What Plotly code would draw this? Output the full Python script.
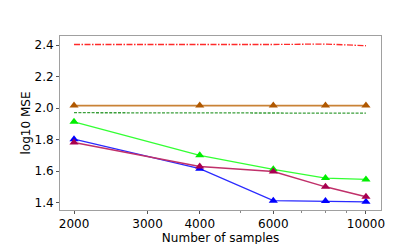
import plotly.graph_objects as go

samples = [2000, 4000, 6000, 8000, 10000]
red_vals = [2.404, 2.403, 2.404, 2.407, 2.396]
brown_vals = [2.016, 2.016, 2.016, 2.016, 2.016]
green_vals = [1.971, 1.971, 1.971, 1.970, 1.968]
lime_vals = [1.913, 1.700, 1.611, 1.556, 1.547]
blue_vals = [1.803, 1.615, 1.412, 1.410, 1.405]
purple_vals = [1.782, 1.629, 1.598, 1.500, 1.437]

x_tickvals = [2000, 3000, 4000, 6000, 10000]
x_ticktext = ["2000", "3000", "4000", "6000", "10000"]
x_minor = [5000, 7000, 8000, 9000]
y_tickvals = [1.4, 1.6, 1.8, 2.0, 2.2, 2.4]
y_ticktext = ["1.4", "1.6", "1.8", "2.0", "2.2", "2.4"]

fig = go.Figure()
fig.add_trace(go.Scatter(x=samples, y=red_vals, mode="lines",
                         line=dict(color="#ff2a2a", width=1.3, dash="6px,1.5px,1.5px,1.5px")))
fig.add_trace(go.Scatter(x=samples, y=green_vals, mode="lines",
                         line=dict(color="#3a9e3a", width=1.3, dash="3px,1.4px")))
fig.add_trace(go.Scatter(x=samples, y=brown_vals, mode="lines+markers",
                         line=dict(color="#c98236", width=1.6),
                         marker=dict(symbol="triangle-up", size=8, color="#b05800")))
fig.add_trace(go.Scatter(x=samples, y=lime_vals, mode="lines+markers",
                         line=dict(color="#33ff33", width=1.3),
                         marker=dict(symbol="triangle-up", size=8, color="#00ee00")))
fig.add_trace(go.Scatter(x=samples, y=blue_vals, mode="lines+markers",
                         line=dict(color="#2a2aff", width=1.3),
                         marker=dict(symbol="triangle-up", size=8, color="#0000ff")))
fig.add_trace(go.Scatter(x=samples, y=purple_vals, mode="lines+markers",
                         line=dict(color="#c0306a", width=1.5),
                         marker=dict(symbol="triangle-up", size=8, color="#a8004f")))

fig.update_layout(
    width=415, height=244,
    margin=dict(l=52, r=42, t=28, b=27),
    paper_bgcolor="white", plot_bgcolor="white",
    showlegend=False,
    font=dict(family="DejaVu Sans", size=12, color="black"),
)
fig.update_xaxes(
    type="log", range=[3.2675, 4.036],
    tickvals=x_tickvals, ticktext=x_ticktext,
    ticks="outside", ticklen=3, tickcolor="#555",
    minor=dict(tickvals=x_minor, ticks="outside", ticklen=2, tickcolor="#888"),
    showgrid=False, zeroline=False,
    showline=True, mirror=True, linecolor="#a0a0a0", linewidth=1,
    title=dict(text="Number of samples", standoff=0, font=dict(size=12)),
    tickfont=dict(size=12),
)
fig.update_yaxes(
    range=[1.353, 2.458],
    tickvals=y_tickvals, ticktext=y_ticktext,
    ticks="outside", ticklen=3, tickcolor="#555",
    showgrid=False, zeroline=False,
    showline=True, mirror=True, linecolor="#a0a0a0", linewidth=1,
    title=dict(text="log10 MSE", standoff=1, font=dict(size=12)),
    tickfont=dict(size=12),
)

fig.write_html("out.html")
